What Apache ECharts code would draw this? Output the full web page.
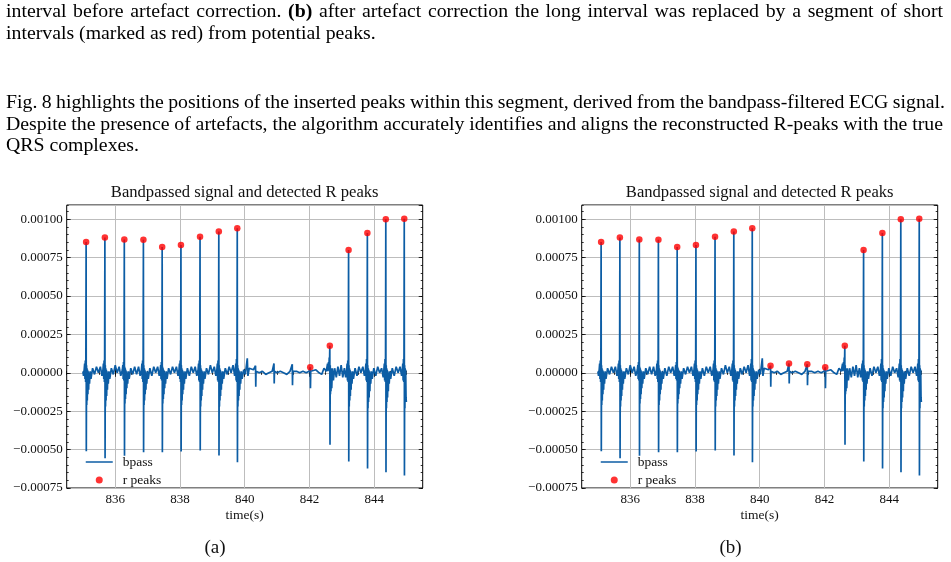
<!DOCTYPE html>
<html>
<head>
<meta charset="utf-8">
<script src="https://cdn.jsdelivr.net/npm/echarts@6/dist/echarts.min.js"></script>
<style>
  html, body { margin: 0; padding: 0; background: #fff; }
  #page { position: relative; width: 951px; height: 562px; overflow: hidden; }
  #chart { position: absolute; left: 0; top: 0; width: 951px; height: 562px; }
  .ln {
    position: absolute; left: 6px; display: inline-block; white-space: nowrap;
    font-family: "Liberation Serif", "Times New Roman", serif; font-size: 19.8px;
    line-height: 22px; color: #000;
  }
</style>
</head>
<body>
<div id="page">
  <div id="chart"></div>
  <div class="ln" style="top:-1px" data-w="937">interval before artefact correction. <b>(b)</b> after artefact correction the long interval was replaced by a segment of short</div>
  <div class="ln" style="top:21px">intervals (marked as red) from potential peaks.</div>
  <div class="ln" style="top:90px" data-w="939">Fig. 8 highlights the positions of the inserted peaks within this segment, derived from the bandpass-filtered ECG signal.</div>
  <div class="ln" style="top:112px" data-w="937">Despite the presence of artefacts, the algorithm accurately identifies and aligns the reconstructed R-peaks with the true</div>
  <div class="ln" style="top:133px">QRS complexes.</div>
</div>
<script>
// bandpassed ECG, [time(s), value]
const bpass = [
  [835.00, 0.00001], [835.02, -0.00002],
  [835.04, 0.00002], [835.055, 0.00006], [835.065, -0.00004], [835.075, 0.00008], [835.085, -0.00006],
  [835.092, 0.00009], [835.10, 0.000852], [835.106, -0.00051], [835.113, 0.00005], [835.12, -0.00021],
  [835.128, 0.00003], [835.136, -0.00018], [835.145, 0.00002], [835.155, -0.00014], [835.165, 0.00001],
  [835.178, -0.00011], [835.19, 0.00000], [835.205, -0.00007], [835.225, 0.00001], [835.25, -0.00004],
  [835.30, 0.00003], [835.36, -0.00001], [835.42, 0.00004], [835.48, 0.00000], [835.54, 0.00004], [835.59, -0.00002],

  [835.62, 0.00002], [835.635, 0.00006], [835.645, -0.00004], [835.655, 0.00008], [835.665, -0.00006],
  [835.672, 0.00010], [835.68, 0.000881], [835.686, -0.000556], [835.693, 0.00005], [835.70, -0.00022],
  [835.708, 0.00003], [835.716, -0.00018], [835.725, 0.00002], [835.735, -0.00015], [835.745, 0.00001],
  [835.758, -0.00011], [835.77, 0.00000], [835.785, -0.00007], [835.805, 0.00001], [835.83, -0.00004],
  [835.88, 0.00003], [835.94, -0.00001], [836.00, 0.00005], [836.06, 0.00000], [836.12, 0.00004], [836.17, -0.00002],

  [836.22, 0.00002], [836.235, 0.00005], [836.245, -0.00004], [836.255, 0.00007], [836.265, -0.00005],
  [836.272, 0.00009], [836.28, 0.000868], [836.286, -0.00054], [836.293, 0.00004], [836.30, -0.00020],
  [836.308, 0.00003], [836.316, -0.00017], [836.325, 0.00002], [836.335, -0.00014], [836.345, 0.00001],
  [836.358, -0.00010], [836.37, 0.00000], [836.385, -0.00007], [836.405, 0.00001], [836.43, -0.00004],
  [836.48, 0.00003], [836.54, -0.00001], [836.60, 0.00004], [836.66, -0.00001], [836.72, 0.00004], [836.77, -0.00002],

  [836.81, 0.00002], [836.825, 0.00006], [836.835, -0.00004], [836.845, 0.00008], [836.855, -0.00006],
  [836.862, 0.00010], [836.87, 0.000866], [836.876, -0.000517], [836.883, 0.00005], [836.89, -0.00021],
  [836.898, 0.00003], [836.906, -0.00018], [836.915, 0.00002], [836.925, -0.00014], [836.935, 0.00001],
  [836.948, -0.00011], [836.96, 0.00000], [836.975, -0.00007], [836.995, 0.00001], [837.02, -0.00004],
  [837.07, 0.00003], [837.13, -0.00002], [837.19, 0.00004], [837.25, 0.00000], [837.31, 0.00004], [837.36, -0.00002],

  [837.39, 0.00002], [837.405, 0.00005], [837.415, -0.00004], [837.425, 0.00007], [837.435, -0.00005],
  [837.442, 0.00008], [837.45, 0.00082], [837.456, -0.000517], [837.463, 0.00004], [837.47, -0.00020],
  [837.478, 0.00003], [837.486, -0.00017], [837.495, 0.00002], [837.505, -0.00014], [837.515, 0.00001],
  [837.528, -0.00010], [837.54, 0.00000], [837.555, -0.00007], [837.575, 0.00001], [837.60, -0.00004],
  [837.65, 0.00003], [837.71, -0.00001], [837.77, 0.00004], [837.83, 0.00000], [837.89, 0.00004], [837.94, -0.00002],

  [837.97, 0.00002], [837.985, 0.00006], [837.995, -0.00004], [838.005, 0.00008], [838.015, -0.00006],
  [838.022, 0.00009], [838.03, 0.000833], [838.036, -0.000512], [838.043, 0.00005], [838.05, -0.00021],
  [838.058, 0.00003], [838.066, -0.00018], [838.075, 0.00002], [838.085, -0.00014], [838.095, 0.00001],
  [838.108, -0.00011], [838.12, 0.00000], [838.135, -0.00007], [838.155, 0.00001], [838.18, -0.00004],
  [838.23, 0.00003], [838.29, -0.00002], [838.35, 0.00004], [838.41, 0.00000], [838.47, 0.00004], [838.52, -0.00002],

  [838.56, 0.00002], [838.575, 0.00006], [838.585, -0.00005], [838.595, 0.00008], [838.605, -0.00006],
  [838.612, 0.00010], [838.62, 0.000887], [838.626, -0.000506], [838.633, 0.00005], [838.64, -0.00022],
  [838.648, 0.00003], [838.656, -0.00018], [838.665, 0.00002], [838.675, -0.00015], [838.685, 0.00001],
  [838.698, -0.00011], [838.71, 0.00000], [838.725, -0.00007], [838.745, 0.00001], [838.77, -0.00004],
  [838.82, 0.00003], [838.88, -0.00001], [838.94, 0.00005], [839.00, 0.00000], [839.06, 0.00004], [839.11, -0.00002],

  [839.14, 0.00002], [839.155, 0.00006], [839.165, -0.00005], [839.175, 0.00008], [839.185, -0.00006],
  [839.192, 0.00010], [839.20, 0.00092], [839.206, -0.000538], [839.213, 0.00005], [839.22, -0.00022],
  [839.228, 0.00003], [839.236, -0.00018], [839.245, 0.00002], [839.255, -0.00015], [839.265, 0.00001],
  [839.278, -0.00011], [839.29, 0.00000], [839.305, -0.00007], [839.325, 0.00001], [839.35, -0.00004],
  [839.40, 0.00003], [839.46, -0.00001], [839.52, 0.00004], [839.58, 0.00000], [839.64, 0.00005], [839.69, -0.00002],

  [839.71, 0.00002], [839.725, 0.00006], [839.735, -0.00005], [839.745, 0.00009], [839.755, -0.00006],
  [839.762, 0.00011], [839.77, 0.000941], [839.776, -0.000582], [839.783, 0.00005], [839.79, -0.00022],
  [839.798, 0.00003], [839.806, -0.00018], [839.815, 0.00002], [839.825, -0.00015], [839.835, 0.00001],
  [839.848, -0.00011], [839.86, 0.00000], [839.875, -0.00007], [839.895, 0.00001], [839.92, -0.00004],
  [839.97, 0.00002], [840.02, -0.00001],

  // artefact segment (long interval)
  [840.06, -0.00002], [840.08, 0.000095], [840.10, -0.00002], [840.14, 0.00003], [840.20, 0.00002],
  [840.27, 0.00002], [840.33, 0.00001], [840.335, 0.000046], [840.342, -0.00009], [840.35, 0.00001],
  [840.45, 0.00000], [840.55, 0.00001], [840.65, -0.00001], [840.75, 0.00000], [840.85, 0.00001],
  [840.905, 0.000061], [840.912, -0.00007], [840.92, 0.00001], [841.00, 0.00000], [841.10, 0.00001],
  [841.20, 0.00000], [841.30, -0.00001], [841.40, 0.00001], [841.47, 0.000056], [841.477, -0.00008],
  [841.485, 0.00001], [841.60, 0.00001], [841.70, 0.00000], [841.80, 0.00001], [841.90, 0.00000],
  [841.99, 0.00001], [842.025, 0.000037], [842.032, -0.00010], [842.04, 0.00001], [842.10, 0.00001],
  [842.20, 0.00002], [842.30, 0.00000], [842.38, -0.00001], [842.45, 0.00003], [842.52, 0.00001],

  [842.56, 0.00006], [842.575, 0.00001], [842.59, 0.00007], [842.60, 0.00002], [842.612, 0.00010],
  [842.62, 0.00005], [842.63, 0.000176], [842.636, -0.000469], [842.643, 0.00005], [842.65, -0.00014],
  [842.658, 0.00003], [842.666, -0.00012], [842.675, 0.00002], [842.69, -0.00010], [842.71, 0.00003],
  [842.74, -0.00005], [842.78, 0.00003], [842.83, -0.00003], [842.88, 0.00004], [842.93, -0.00002],
  [842.98, 0.00005], [843.03, -0.00003], [843.08, 0.00003], [843.12, -0.00003],

  [843.15, 0.00002], [843.165, 0.00006], [843.175, -0.00005], [843.185, 0.00008], [843.195, -0.00006],
  [843.202, 0.00010], [843.21, 0.00080], [843.216, -0.000577], [843.223, 0.00005], [843.23, -0.00022],
  [843.238, 0.00003], [843.246, -0.00018], [843.255, 0.00002], [843.265, -0.00015], [843.275, 0.00001],
  [843.288, -0.00011], [843.30, 0.00000], [843.315, -0.00007], [843.335, 0.00001], [843.36, -0.00004],
  [843.41, 0.00003], [843.47, -0.00002], [843.53, 0.00004], [843.59, 0.00000], [843.65, 0.00004], [843.70, -0.00002],

  [843.73, 0.00002], [843.745, 0.00006], [843.755, -0.00005], [843.765, 0.00009], [843.775, -0.00006],
  [843.782, 0.00011], [843.79, 0.000911], [843.796, -0.000623], [843.803, 0.00005], [843.81, -0.00023],
  [843.818, 0.00003], [843.826, -0.00019], [843.835, 0.00002], [843.845, -0.00016], [843.855, 0.00001],
  [843.868, -0.00012], [843.88, 0.00000], [843.895, -0.00007], [843.915, 0.00001], [843.94, -0.00004],
  [843.99, 0.00003], [844.05, -0.00002], [844.11, 0.00004], [844.17, 0.00000], [844.23, 0.00003], [844.28, -0.00003],

  [844.30, 0.00002], [844.315, 0.00006], [844.325, -0.00005], [844.335, 0.00009], [844.345, -0.00006],
  [844.352, 0.00011], [844.36, 0.00100], [844.366, -0.000647], [844.373, 0.00005], [844.38, -0.00023],
  [844.388, 0.00003], [844.396, -0.00019], [844.405, 0.00002], [844.415, -0.00016], [844.425, 0.00001],
  [844.438, -0.00012], [844.45, 0.00000], [844.465, -0.00007], [844.485, 0.00001], [844.51, -0.00004],
  [844.56, 0.00003], [844.62, -0.00002], [844.68, 0.00004], [844.74, 0.00000], [844.80, 0.00004], [844.85, -0.00002],

  [844.87, 0.00002], [844.885, 0.00006], [844.895, -0.00005], [844.905, 0.00009], [844.915, -0.00006],
  [844.922, 0.00012], [844.93, 0.001004], [844.936, -0.000668], [844.943, 0.00005], [844.95, -0.00023],
  [844.958, 0.00003], [844.966, -0.00019], [844.975, 0.00002], [844.985, -0.00016], [844.995, -0.00019]
];

// detected R peaks before correction (a)
const rPeaksA = [
  [835.10, 0.000852], [835.68, 0.000881], [836.28, 0.000868], [836.87, 0.000866], [837.45, 0.00082],
  [838.03, 0.000833], [838.62, 0.000887], [839.20, 0.00092], [839.77, 0.000941], [842.025, 0.000037],
  [842.63, 0.000176], [843.21, 0.00080], [843.79, 0.000911], [844.36, 0.00100], [844.93, 0.001004]
];

// after correction (b): inserted peaks in the long interval
const rPeaksB = [
  [835.10, 0.000852], [835.68, 0.000881], [836.28, 0.000868], [836.87, 0.000866], [837.45, 0.00082],
  [838.03, 0.000833], [838.62, 0.000887], [839.20, 0.00092], [839.77, 0.000941], [840.335, 0.000046],
  [840.905, 0.000061], [841.47, 0.000056], [842.025, 0.000037], [842.63, 0.000176], [843.21, 0.00080],
  [843.79, 0.000911], [844.36, 0.00100], [844.93, 0.001004]
];

const xTicks = [836, 838, 840, 842, 844];
const xMin = 834.5, xMax = 845.5;
const yMin = -0.00075, yMax = 0.001093;
const yStep = 0.00025;

const serif = '"Liberation Serif", "Times New Roman", serif';
const grids = [
  { left: 66.7, top: 205, width: 356, height: 283 },
  { left: 581.7, top: 205, width: 356, height: 283 }
];

function yLabel(v) {
  const k = Math.round(v / yStep);
  if (Math.abs(v - k * yStep) > 1e-9) return '';
  return (k < 0 ? '\u2212' : '') + Math.abs(k * yStep).toFixed(5);
}

function xAxes(g) {
  const base = { gridIndex: g, type: 'value', min: xMin, max: xMax, axisLine: { show: false } };
  const tick = len => ({ inside: true, length: len, lineStyle: { color: '#000', width: 0.8 } });
  return [
    Object.assign({}, base, { position: 'bottom', interval: 0.5, axisTick: tick(2),
      axisLabel: { show: false }, splitLine: { show: false } }),
    Object.assign({}, base, { position: 'bottom',
      axisTick: Object.assign(tick(4), { customValues: xTicks }),
      axisLabel: { customValues: xTicks, margin: 5, color: '#111', fontFamily: serif, fontSize: 13 },
      splitLine: { show: true, lineStyle: { color: '#bdbdbd', width: 1 } } }),
    Object.assign({}, base, { position: 'top', interval: 0.5, axisTick: tick(2),
      axisLabel: { show: false }, splitLine: { show: false } }),
    Object.assign({}, base, { position: 'top',
      axisTick: Object.assign(tick(4), { customValues: xTicks }),
      axisLabel: { show: false }, splitLine: { show: false } })
  ];
}

function yAxes(g) {
  const base = { gridIndex: g, type: 'value', min: yMin, max: yMax, axisLine: { show: false } };
  const tick = len => ({ inside: true, length: len, lineStyle: { color: '#000', width: 0.8 } });
  return [
    Object.assign({}, base, { position: 'left', interval: 0.00005, axisTick: tick(2),
      axisLabel: { show: false }, splitLine: { show: false } }),
    Object.assign({}, base, { position: 'left', interval: yStep, axisTick: tick(4),
      axisLabel: { margin: 4, color: '#111', fontFamily: serif, fontSize: 13, formatter: yLabel, showMaxLabel: false },
      splitLine: { show: true, lineStyle: { color: '#bdbdbd', width: 1 } } }),
    Object.assign({}, base, { position: 'right', interval: 0.00005, axisTick: tick(2),
      axisLabel: { show: false }, splitLine: { show: false } }),
    Object.assign({}, base, { position: 'right', interval: yStep, axisTick: tick(4),
      axisLabel: { show: false }, splitLine: { show: false } })
  ];
}

function seriesFor(g, peaks) {
  return [
    {
      name: 'bpass', type: 'line', xAxisIndex: 4 * g, yAxisIndex: 4 * g,
      data: bpass, symbol: 'none', showSymbol: false, sampling: null,
      lineStyle: { color: '#0C5DA5', width: 1.7 }, itemStyle: { color: '#0C5DA5' }, z: 2
    },
    {
      name: 'r peaks', type: 'scatter', xAxisIndex: 4 * g, yAxisIndex: 4 * g,
      data: peaks, symbol: 'circle', symbolSize: 6.5,
      itemStyle: { color: '#ff0000' }, z: 3
    }
  ];
}

function legendFor(left) {
  return {
    left: left, top: 455, orient: 'vertical', padding: 0,
    itemWidth: 27, itemHeight: 7, itemGap: 4,
    // line only for bpass, no marker in the middle
    data: [{ name: 'bpass', itemStyle: { opacity: 0 }, lineStyle: { width: 1.5 } }, { name: 'r peaks' }],
    textStyle: { fontFamily: serif, fontSize: 13.5, color: '#111', lineHeight: 14, padding: [0, 0, 0, 5] }
  };
}

function label(x, y, text, size) {
  return {
    type: 'text', x: x, y: y,
    style: { text: text, fill: '#111', font: size + 'px ' + serif, textAlign: 'center', textVerticalAlign: 'middle' }
  };
}

const chart = echarts.init(document.getElementById('chart'), null, { renderer: 'canvas' });
chart.setOption({
  animation: false,
  backgroundColor: 'transparent',
  grid: grids.map(r => Object.assign({
    show: true, borderColor: '#000', borderWidth: 1, backgroundColor: 'transparent',
    containLabel: false, outerBoundsMode: 'none'
  }, r)),
  xAxis: xAxes(0).concat(xAxes(1)),
  yAxis: yAxes(0).concat(yAxes(1)),
  legend: [legendFor(85), legendFor(600)],
  graphic: [
    label(244.7, 193, 'Bandpassed signal and detected R peaks', 16.6),
    label(759.7, 193, 'Bandpassed signal and detected R peaks', 16.6),
    label(244.7, 515.5, 'time(s)', 13.5),
    label(759.7, 515.5, 'time(s)', 13.5),
    label(215, 548, '(a)', 19),
    label(730.5, 548, '(b)', 19)
  ],
  series: seriesFor(0, rPeaksA).concat(seriesFor(1, rPeaksB))
});

// stretch the justified lines of the paragraph text to their measured widths
document.querySelectorAll('.ln[data-w]').forEach(el => {
  const target = +el.dataset.w;
  const nat = el.getBoundingClientRect().width;
  const spaces = (el.textContent.match(/ /g) || []).length;
  el.style.wordSpacing = ((target - nat) / spaces) + 'px';
});
</script>
</body>
</html>
